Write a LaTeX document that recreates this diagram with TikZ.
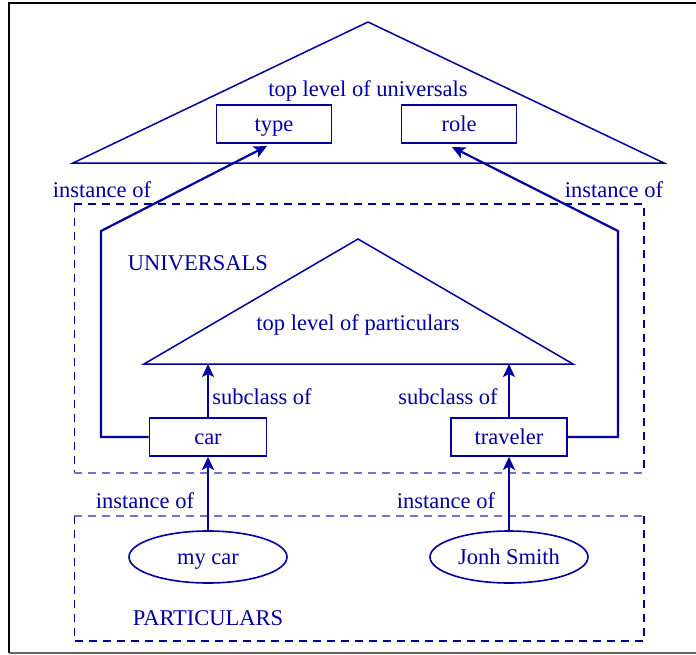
\documentclass[tikz,border=0pt]{standalone}
\usepackage{fontspec}
\setmainfont{Liberation Serif}
\usepackage{tikz}
\usetikzlibrary{
    arrows.meta,
    shapes.geometric,
    calc,
    positioning
}
\definecolor{ontoblue}{RGB}{0,0,160}
\definecolor{ontolight}{RGB}{115,115,205}
\tikzset{cbox/.style={draw=ontoblue, text=ontoblue, line width=1.6pt, minimum width=115pt, minimum height=38pt, inner sep=0pt, text height=17pt, text depth=3pt}}
\tikzset{cell/.style={ellipse, draw=ontoblue, text=ontoblue, line width=1.6pt, minimum width=158pt, minimum height=52pt, inner sep=0pt, text height=17pt, text depth=3pt}}
\tikzset{lbl/.style={text=ontoblue, inner sep=0pt, text height=17pt, text depth=3pt}}
\tikzset{arr/.style={-{Stealth[length=13pt, width=12pt, inset=3pt]}, line width=2.2pt, draw=ontoblue}}
\tikzset{dkdash/.style={draw=ontoblue, line width=2.2pt, dash pattern=on 8pt off 6pt}}
\tikzset{thdash/.style={draw=ontoblue, line width=1pt, dash pattern=on 8pt off 6pt}}
\tikzset{ltdash/.style={draw=ontolight, line width=1.4pt, dash pattern=on 8pt off 6pt}}
\tikzset{tri/.style={draw=ontoblue, line width=1.5pt}}

\begin{document}
\begin{tikzpicture}[x=1pt, y=-1pt, font=\fontsize{22.5}{26}\selectfont]
                        \useasboundingbox (0, 0) rectangle (696, 654);
                        \clip (0, 0) rectangle (696, 654);

                        % frame
                        \draw[line width=2pt] (9, 653) -- (9, 3) -- (700, 3);
                        \draw[line width=1.5pt, black!60] (9, 653) -- (700, 653);

                        % triangles
                        \coordinate (utop) at (368, 22);
                        \coordinate (uleft) at (73, 163);
                        \coordinate (uright) at (664, 163);
                        \coordinate (ptop) at (358, 239);
                        \coordinate (pleft) at (144, 364);
                        \coordinate (pright) at (573, 364);
                        \draw[tri] (utop) -- (uright) -- (uleft) -- cycle;
                        \draw[tri] (ptop) -- (pright) -- (pleft) -- cycle;

                        % dashed areas
                        \draw[dkdash] (74, 204) -- (644, 204) -- (644, 473);
                        \draw[thdash] (74, 204) -- (74, 473);
                        \draw[ltdash] (74, 473) -- (644, 473);
                        \draw[ltdash] (74, 516) -- (644, 516);
                        \draw[thdash] (74, 516) -- (74, 641);
                        \draw[dkdash] (644, 516) -- (644, 641) -- (74, 641);

                        \node[cbox] (type) at (274, 124) {type};
                        \node[cbox] (role) at (459, 124) {role};
                        \node[cbox, minimum width=117pt] (car) at (208, 437) {car};
                        \node[cbox, minimum width=116pt] (trav) at (509, 437) {traveler};
                        \node[cell] (mycar) at (208, 557) {my car};
                        \node[cell] (john) at (509, 557) {Jonh Smith};

                        \node[lbl] (tlu) at (368, 89) {top level of universals};
                        \node[lbl] (tlp) at (358, 323) {top level of particulars};
                        \node[lbl] (univ) at (198, 263) {UNIVERSALS};
                        \node[lbl] (part) at (208, 618) {PARTICULARS};
                        \node[lbl] (instl) at (102, 190) {instance of};
                        \node[lbl] (instr) at (614, 190) {instance of};
                        \node[lbl] (subl) at (262, 397) {subclass of};
                        \node[lbl] (subr) at (448, 397) {subclass of};
                        \node[lbl] (instmc) at (145, 501) {instance of};
                        \node[lbl] (instjs) at (446, 501) {instance of};

                        \coordinate (bendl) at (101, 231);
                        \coordinate (bendr) at (618, 231);
                        \coordinate (typein) at (267, 146);
                        \coordinate (rolein) at (452, 147);

                        \draw[arr] (car.west) -| (bendl) -- (typein);
                        \draw[arr] (trav.east) -| (bendr) -- (rolein);

                        \draw
                        (car.north) edge[arr] (car.north |- pleft)
                        (trav.north) edge[arr] (trav.north |- pright)
                        (mycar.north) edge[arr] (car.south)
                        (john.north) edge[arr] (trav.south);
                    \end{tikzpicture}
\end{document}
